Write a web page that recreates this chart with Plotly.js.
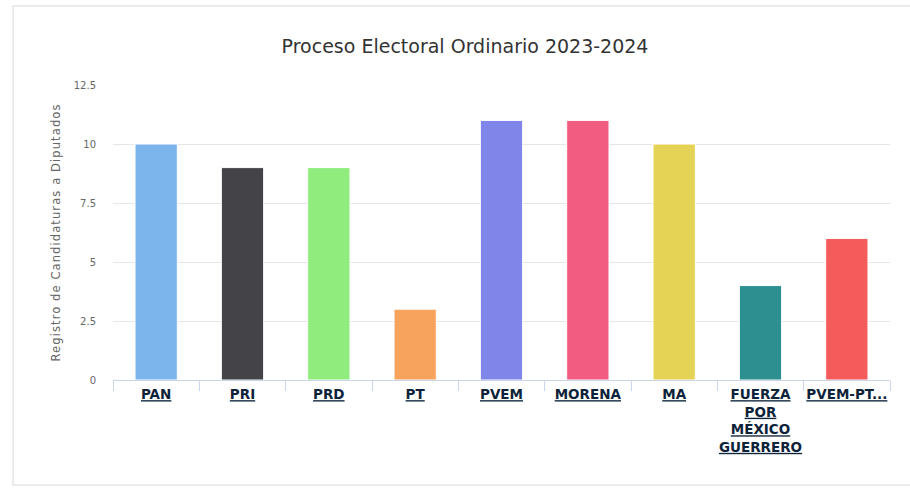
<!DOCTYPE html>
<html>
<head>
<meta charset="utf-8">
<script src="https://cdn.plot.ly/plotly-3.0.1.min.js"></script>
<style>
  html, body { margin: 0; padding: 0; background: #fff; }
  #frame { position: absolute; left: 12px; top: 5px; width: 910px; height: 481px;
           border: 2px solid #ebebeb; border-right: none; box-sizing: border-box; }
  #chart { position: absolute; left: 0; top: 0; width: 910px; height: 490px; }
</style>
</head>
<body>
<div id="frame"></div>
<div id="chart"></div>
<script>
const categories = ["PAN", "PRI", "PRD", "PT", "PVEM", "MORENA", "MA", "FUERZA<br>POR<br>MÉXICO<br>GUERRERO", "PVEM-PT..."];
const values = [10, 9, 9, 3, 11, 11, 10, 4, 6];
const colors = ["#7cb5ec", "#434348", "#90ed7d", "#f7a35c", "#8085e9", "#f15c80", "#e4d354", "#2b908f", "#f45b5b"];
const tickLabels = categories.map(c => c.split("<br>").map(s => "<u><b>" + s + "</b></u>").join("<br>"));

const trace = {
  type: "bar",
  x: categories,
  y: values,
  marker: { color: colors, line: { color: "#ffffff", width: 1 } },
  hoverinfo: "x+y"
};

const layout = {
  width: 910, height: 490,
  margin: { l: 113, r: 20, t: 85, b: 110 },
  paper_bgcolor: "rgba(0,0,0,0)",
  plot_bgcolor: "rgba(0,0,0,0)",
  bargap: 0.51,
  showlegend: false,
  title: {
    text: "Proceso Electoral Ordinario 2023-2024",
    x: 0.511, xanchor: "center", y: 0.906, yanchor: "middle",
    font: { family: "DejaVu Sans", size: 19, color: "#333333" }
  },
  xaxis: {
    type: "category",
    tickmode: "array",
    tickvals: categories,
    ticktext: tickLabels,
    tickson: "boundaries",
    ticks: "outside", ticklen: 10, tickcolor: "#ccd6eb", tickwidth: 1,
    showline: true, linecolor: "#ccd6eb", linewidth: 1,
    showgrid: false, zeroline: false,
    tickangle: 0,
    ticklabelstandoff: 2,
    tickfont: { family: "DejaVu Sans", size: 13.5, color: "#0d233a" }
  },
  yaxis: {
    range: [0, 12.5],
    tickmode: "array",
    tickvals: [0, 2.5, 5, 7.5, 10, 12.5],
    ticktext: ["0", "2.5", "5", "7.5", "10", "12.5"],
    showgrid: true, gridcolor: "#e6e6e6", gridwidth: 1,
    zeroline: false, showline: false, ticks: "",
    tickfont: { family: "DejaVu Sans", size: 10, color: "#666666" },
    ticklabelstandoff: 16,
    title: {
      text: "<span style=\"letter-spacing:1.1px\">Registro de Candidaturas a Diputados</span>",
      font: { family: "DejaVu Sans", size: 11.5, color: "#666666" },
      standoff: 10
    }
  }
};

Plotly.newPlot("chart", [trace], layout, { displayModeBar: false, staticPlot: true });
</script>
</body>
</html>
